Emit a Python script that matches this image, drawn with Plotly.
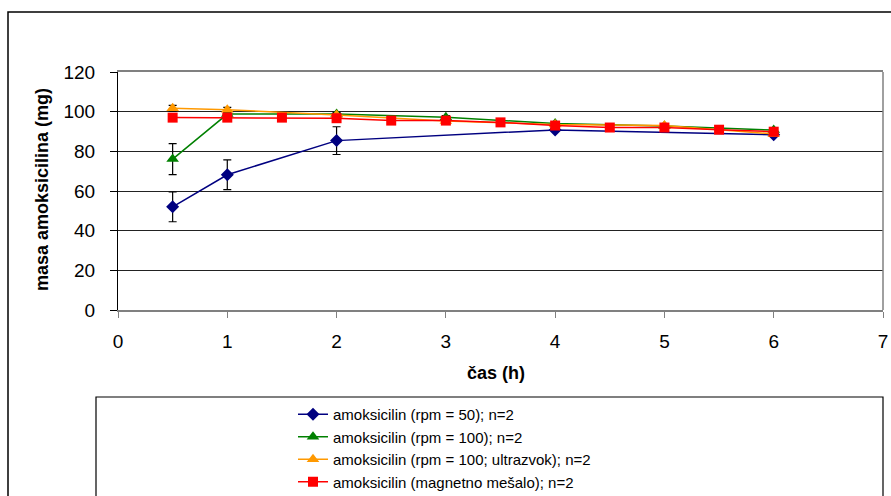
import plotly.graph_objects as go

# ---- data ----
t_rpm50 = [0.5, 1, 2, 4, 6]
m_rpm50 = [52.0, 68.2, 85.4, 90.8, 88.4]
e_rpm50 = [7.5, 7.5, 7.0, 0.8, 0.8]

t_rpm100 = [0.5, 1, 2, 3, 4, 5, 6]
m_rpm100 = [76.1, 98.8, 98.8, 97.2, 94.0, 92.8, 90.7]
e_rpm100 = [7.8, 0.8, 0.8, 0.8, 0.8, 0.8, 0.8]

t_ultra = [0.5, 1, 2, 3, 4, 5, 6]
m_ultra = [101.7, 101.0, 98.3, 95.3, 93.5, 93.0, 88.8]
e_ultra = [1.5, 1.2, 0.8, 0.8, 0.8, 0.8, 0.8]

t_mag = [0.5, 1, 1.5, 2, 2.5, 3, 3.5, 4, 4.5, 5, 5.5, 6]
m_mag = [97.0, 97.0, 97.0, 96.7, 95.5, 95.5, 94.6, 93.0, 92.0, 92.0, 90.9, 89.9]
e_mag = [1.0] * 12

names = [
    "amoksicilin (rpm = 50); n=2",
    "amoksicilin (rpm = 100); n=2",
    "amoksicilin (rpm = 100; ultrazvok); n=2",
    "amoksicilin (magnetno mešalo); n=2",
]
colors = ["#000080", "#008000", "#FF9900", "#FF0000"]
symbols = ["diamond", "triangle-up", "triangle-up", "square"]
sizes = [10, 11, 11, 10]

x_ticks = [0, 1, 2, 3, 4, 5, 6, 7]
y_ticks = [0, 20, 40, 60, 80, 100, 120]

W, H = 891, 496
L, R, T, B = 118, 883, 72, 310


def px(x):
    return (x - L) / (R - L)


def py(y):
    return (B - y) / (B - T)


FONT = "Liberation Sans, Arial, sans-serif"

fig = go.Figure()
series = [(t_rpm50, m_rpm50, e_rpm50), (t_rpm100, m_rpm100, e_rpm100),
          (t_ultra, m_ultra, e_ultra), (t_mag, m_mag, e_mag)]
for (t, m, e), n, c, s, sz in zip(series, names, colors, symbols, sizes):
    fig.add_trace(go.Scatter(
        x=t, y=m, name=n, mode="lines+markers",
        line=dict(color=c, width=1.5),
        marker=dict(color=c, symbol=s, size=sz, line=dict(width=0)),
        error_y=dict(type="data", array=e, visible=True, color="black",
                     thickness=1.2, width=4),
    ))

fig.update_layout(
    width=W, height=H,
    margin=dict(l=L, r=W - R, t=T, b=H - B, autoexpand=False),
    paper_bgcolor="white", plot_bgcolor="white",
    font=dict(family=FONT, color="black"),
    showlegend=True,
    legend=dict(x=px(293), y=py(398), xanchor="left", yanchor="top",
                bgcolor="rgba(0,0,0,0)", font=dict(size=15, family=FONT),
                tracegroupgap=0, itemwidth=30),
    xaxis=dict(range=[0, 7], tickvals=x_ticks, ticktext=[str(v) for v in x_ticks],
               showgrid=False, zeroline=False, automargin=False,
               showline=True, linecolor="#808080", linewidth=1.5, mirror=True,
               ticks="outside", ticklen=6, tickcolor="#808080", tickwidth=1,
               tickfont=dict(size=19, family=FONT), ticklabelstandoff=7),
    yaxis=dict(range=[0, 120], tickvals=y_ticks, ticktext=[str(v) for v in y_ticks],
               showgrid=True, gridcolor="#222222", gridwidth=1, zeroline=False,
               automargin=False,
               showline=True, linecolor="black", linewidth=1.2,
               ticks="outside", ticklen=7, tickcolor="black", tickwidth=1,
               tickfont=dict(size=19, family=FONT), ticklabelstandoff=11),
    shapes=[
        dict(type="line", xref="paper", yref="paper", x0=1, x1=1, y0=0, y1=1,
             line=dict(color="#808080", width=1.5)),
        dict(type="rect", xref="paper", yref="paper",
             x0=px(8), x1=px(896), y0=py(503), y1=py(12),
             line=dict(color="black", width=1.5)),
        dict(type="rect", xref="paper", yref="paper",
             x0=px(96), x1=px(883), y0=py(503), y1=py(397),
             line=dict(color="black", width=1.2)),
    ],
    annotations=[
        dict(text="<b>masa amoksicilina (mg)</b>", xref="paper", yref="paper",
             x=px(42), y=py(190), textangle=-90, showarrow=False,
             font=dict(size=18, family=FONT), xanchor="center", yanchor="middle"),
        dict(text="<b>čas (h)</b>", xref="paper", yref="paper",
             x=px(496), y=py(373), showarrow=False,
             font=dict(size=18, family=FONT), xanchor="center", yanchor="middle"),
    ],
)

fig.write_html("out.html")
